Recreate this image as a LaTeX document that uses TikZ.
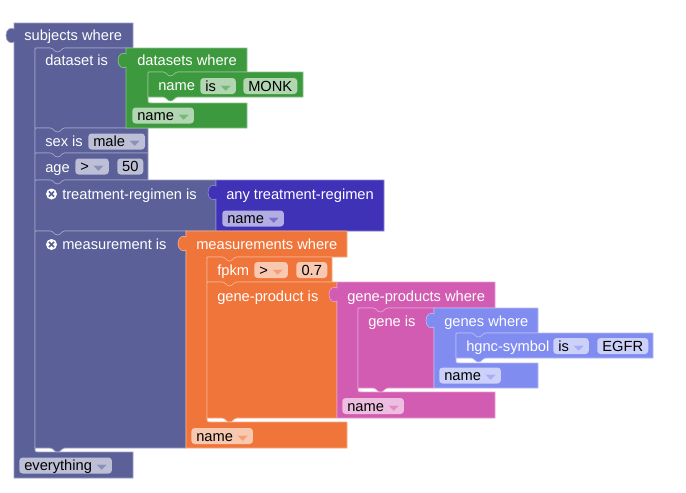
\documentclass[tikz,border=0pt]{standalone}
\usepackage{fontspec}
\setmainfont{Liberation Sans}
\newfontfamily\symf{DejaVu Sans}
\definecolor{mainc}{RGB}{91,96,153}
\definecolor{grnc}{RGB}{61,153,61}
\definecolor{bluc}{RGB}{63,50,183}
\definecolor{orgc}{RGB}{240,117,58}
\definecolor{pnkc}{RGB}{210,92,178}
\definecolor{lavc}{RGB}{128,140,240}
\tikzset{
  blk/.style={fill=#1, draw=#1!60!white, line width=0.5pt},
  dipR/.style={insert path={to[out=0,in=180] ++(7.5,4) to[out=0,in=180] ++(7.5,-4)}},
  bumpL/.style={insert path={to[out=180,in=0] ++(-7.5,4) to[out=180,in=0] ++(-7.5,-4)}},
  lbl/.style={anchor=west, inner sep=0pt, text=white, text height=9pt, text depth=1.5pt},
  pill/.style={anchor=west, fill=#1!40!white, rounded corners=2.5pt, text=black, inner xsep=3.75pt, inner ysep=0pt, minimum height=12pt, text height=9pt, text depth=1.5pt},
  field/.style={pill=#1, inner xsep=0pt}
}
\newcommand{\dd}[1]{\hspace{3.5pt}\scalebox{1.4}[0.7]{\symf\color{#1!70!white}▾}\hspace{2.5pt}}
\newcommand{\xicon}[2]{%
  \fill[white] (#1,#2) circle[radius=5.5];
  \draw[mainc, line width=1.1pt] ({#1-2.6},{#2-2.6}) -- ({#1+2.6},{#2+2.6}) ({#1+2.6},{#2-2.6}) -- ({#1-2.6},{#2+2.6});}
\newcommand{\stmt}[5]{%
  \filldraw[blk=#1] (#2,{#3+4}) .. controls (#2,#3) .. ({#2+4},#3) -- ({#2+15},#3) [dipR] -- (#4,#3) -- (#4,#5) -- ({#2+30},#5) [bumpL] -- (#2,#5) -- cycle;}
\newcommand{\vblk}[5]{%
  \filldraw[blk=#1] (#2,#3) -- (#4,#3) -- (#4,#5) -- (#2,#5) -- (#2,{#3+19}) .. controls ({#2-3},{#3+21}) and ({#2-8},{#3+19}) .. ({#2-8},{#3+12.5}) .. controls ({#2-8},{#3+6}) and ({#2-3},{#3+4}) .. (#2,{#3+6}) -- cycle;}
\newcommand{\cblk}[9]{%
  \filldraw[blk=#1] (#2,#3) -- (#4,#3) -- (#4,#5) -- ({#6+30},#5) [bumpL] -- (#6,#5) -- (#6,{#7-4}) .. controls (#6,#7) .. ({#6+4},#7) -- (#8,#7) -- (#8,#9) -- (#2,#9) -- (#2,{#3+19}) .. controls ({#2-3},{#3+21}) and ({#2-8},{#3+19}) .. ({#2-8},{#3+12.5}) .. controls ({#2-8},{#3+6}) and ({#2-3},{#3+4}) .. (#2,{#3+6}) -- cycle;}

\begin{document}
\begin{tikzpicture}[x=0.75pt, y=-0.75pt, every node/.style={font=\fontsize{11pt}{13pt}\selectfont}]
    \useasboundingbox (0,0) rectangle (686,493);
    \cblk{mainc}{14}{23}{133}{48}{35}{452}{133}{478}
    \stmt{mainc}{35}{48}{127}{128}
    \stmt{mainc}{35}{128}{148}{153}
    \stmt{mainc}{35}{153}{148}{180}
    \stmt{mainc}{35}{180}{216}{231}
    \stmt{mainc}{35}{231}{186}{448}
    \node[lbl] (subj) at (24,35.5) {subjects where};
    \node[pill=mainc] (every) at (19,465.5) {everything\dd{mainc}};
    \node[lbl] (dsis) at (45,60) {dataset is};
    \node[lbl] (sexis) at (45,141) {sex is};
    \node[pill=mainc] (sexv) at (88,141.5) {male\dd{mainc}};
    \node[lbl] (age) at (45,167) {age};
    \node[pill=mainc] (ageop) at (75,166.5) {>\dd{mainc}};
    \node[field=mainc, minimum width=19.5pt] (agev) at (117,166.5) {50};
    \xicon{51.5}{194}
    \node[lbl] (trtis) at (62,194) {treatment-regimen is};
    \xicon{51.5}{244.5}
    \node[lbl] (msis) at (62,244.5) {measurement is};

    \cblk{grnc}{126}{48}{247}{72}{148}{103}{247}{128}
    \stmt{grnc}{148}{72}{303}{97}
    \node[lbl] (dsw) at (137,60) {datasets where};
    \node[lbl] (dsname) at (158,85.5) {name};
    \node[pill=grnc] (dsop) at (200,86) {is\dd{grnc}};
    \node[field=grnc, minimum width=40.5pt] (dsv) at (243,86) {MONK};
    \node[pill=grnc] (dsout) at (132,115.5) {name\dd{grnc}};

    \vblk{bluc}{216}{180}{384}{231}
    \node[lbl] (anytr) at (226,194) {any treatment-regimen};
    \node[pill=bluc] (trout) at (222,218.5) {name\dd{bluc}};

    \cblk{orgc}{186}{231}{347}{257}{207}{422}{347}{448}
    \stmt{orgc}{207}{257}{332}{282}
    \stmt{orgc}{207}{282}{337}{418}
    \node[lbl] (msw) at (196,244.5) {measurements where};
    \node[lbl] (fpkm) at (217,270) {fpkm};
    \node[pill=orgc] (fpop) at (254,270) {>\dd{orgc}};
    \node[field=orgc, minimum width=23.25pt] (fpv) at (296,270) {0.7};
    \node[lbl] (gpis) at (217,296) {gene-product is};
    \node[pill=orgc] (msout) at (191,436) {name\dd{orgc}};

    \cblk{pnkc}{337}{282}{495}{308}{358}{392}{495}{418}
    \stmt{pnkc}{358}{308}{434}{388}
    \node[lbl] (gpw) at (347,296) {gene-products where};
    \node[lbl] (gis) at (368,321) {gene is};
    \node[pill=pnkc] (gpout) at (342,406) {name\dd{pnkc}};

    \cblk{lavc}{434}{308}{538}{333}{456}{363}{538}{388}
    \stmt{lavc}{456}{333}{653}{358}
    \node[lbl] (gw) at (444,321) {genes where};
    \node[lbl] (hgnc) at (466,346) {hgnc-symbol};
    \node[pill=lavc] (hgop) at (553,346) {is\dd{lavc}};
    \node[field=lavc, minimum width=38.25pt] (hgv) at (597,346) {EGFR};
    \node[pill=lavc] (gout) at (439,375.5) {name\dd{lavc}};
\end{tikzpicture}
\end{document}
